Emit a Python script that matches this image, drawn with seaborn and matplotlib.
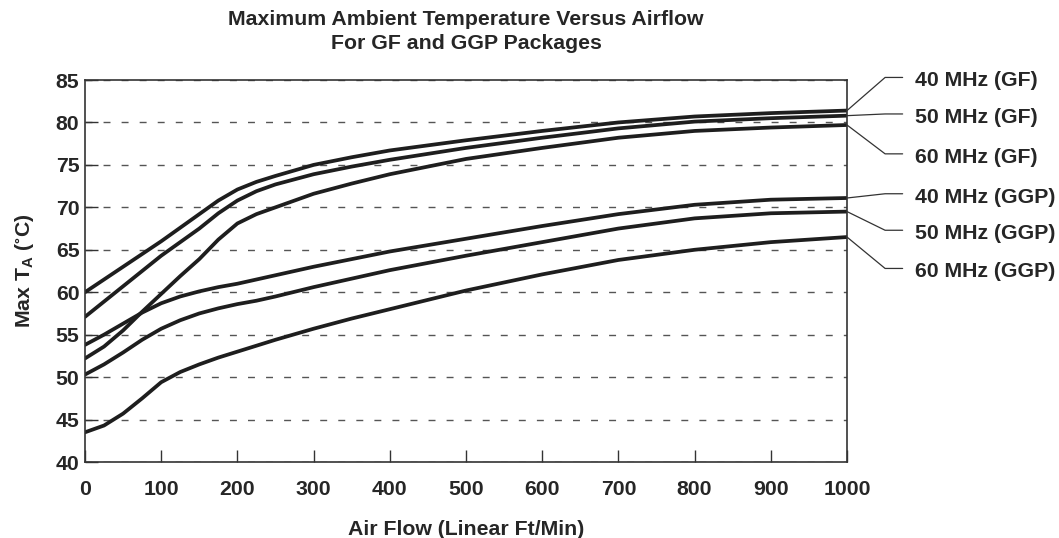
import numpy as np
import pandas as pd
import matplotlib
matplotlib.use("Agg")
import matplotlib.pyplot as plt
import seaborn as sns

# airflow sample points (linear ft/min)
airflow = [0, 25, 50, 75, 100, 125, 150, 175, 200, 225, 250, 300, 350, 400,
           500, 600, 700, 800, 900, 1000]

# max ambient temperature (deg C)
t_40_gf = [60.0, 61.5, 63.0, 64.5, 66.0, 67.6, 69.2, 70.8, 72.1, 73.0, 73.7,
           75.0, 75.9, 76.7, 77.9, 79.0, 80.0, 80.7, 81.1, 81.4]
t_50_gf = [57.1, 58.9, 60.7, 62.5, 64.3, 65.9, 67.5, 69.3, 70.8, 71.9, 72.7,
           73.9, 74.8, 75.6, 77.0, 78.2, 79.3, 80.1, 80.5, 80.8]
t_60_gf = [52.2, 53.6, 55.5, 57.7, 59.8, 61.9, 63.9, 66.2, 68.1, 69.2, 70.0,
           71.6, 72.8, 73.9, 75.7, 77.0, 78.2, 79.0, 79.4, 79.7]
t_40_ggp = [53.8, 55.0, 56.3, 57.6, 58.7, 59.5, 60.1, 60.6, 61.0, 61.5, 62.0,
            63.0, 63.9, 64.8, 66.3, 67.8, 69.2, 70.3, 70.9, 71.1]
t_50_ggp = [50.3, 51.5, 52.9, 54.4, 55.7, 56.7, 57.5, 58.1, 58.6, 59.0, 59.5,
            60.6, 61.6, 62.6, 64.3, 65.9, 67.5, 68.7, 69.3, 69.5]
t_60_ggp = [43.5, 44.3, 45.7, 47.5, 49.4, 50.6, 51.5, 52.3, 53.0, 53.7, 54.4,
            55.7, 56.9, 58.0, 60.2, 62.1, 63.8, 65.0, 65.9, 66.5]

series_names = ["40 MHz (GF)", "50 MHz (GF)", "60 MHz (GF)",
                "40 MHz (GGP)", "50 MHz (GGP)", "60 MHz (GGP)"]
series_vals = [t_40_gf, t_50_gf, t_60_gf, t_40_ggp, t_50_ggp, t_60_ggp]

# where each callout label sits (deg C) on the right of the plot
label_y = [84.9, 80.6, 75.9, 71.2, 66.9, 62.4]

rows = []
for name, vals in zip(series_names, series_vals):
    for x, y in zip(airflow, vals):
        rows.append({"airflow": x, "temp": y, "series": name})
df = pd.DataFrame(rows)

sns.set_style("ticks")
plt.rcParams["font.family"] = ["Liberation Sans", "DejaVu Sans"]
plt.rcParams["font.weight"] = "bold"
plt.rcParams["mathtext.default"] = "regular"

ink = "#1e1e1e"
fs = 15.3
fig = plt.figure(figsize=(10.59, 5.38), dpi=100)
ax = fig.add_axes([85 / 1059, 1 - 462 / 538, 762 / 1059, 382 / 538])

sns.lineplot(data=df, x="airflow", y="temp", hue="series",
             palette=[ink] * 6, linewidth=2.7, legend=False, ax=ax)

ax.set_xlim(0, 1000)
ax.set_ylim(40, 85)
ax.set_xticks(range(0, 1001, 100))
ax.set_yticks(range(40, 86, 5))
ax.yaxis.grid(True, linestyle=(0, (5, 8)), color="#555555", linewidth=1.0)
ax.xaxis.grid(False)

for s in ax.spines.values():
    s.set_visible(True)
    s.set_color("#333333")
    s.set_linewidth(1.2)

ax.tick_params(axis="x", direction="in", length=9, width=1, color="#333333",
               pad=13, labelsize=fs)
ax.tick_params(axis="y", direction="in", length=9, width=1, color="#333333",
               pad=4, labelsize=fs)
for lab in ax.get_xticklabels() + ax.get_yticklabels():
    lab.set_fontweight("bold")

ax.set_xlabel("Air Flow (Linear Ft/Min)", fontsize=fs, fontweight="bold", labelpad=15)
ax.set_ylabel("Max T$_{A}$ ($^{\\circ}$C)", fontsize=fs, fontweight="bold", labelpad=14)

fig.text(466 / 1059, 1 - 10 / 538,
         "Maximum Ambient Temperature Versus Airflow\nFor GF and GGP Packages",
         ha="center", va="top", fontsize=fs, fontweight="bold", linespacing=1.35)

# callout labels with leader lines
for name, vals, ly in zip(series_names, series_vals, label_y):
    ax.plot([1000, 1050, 1073], [vals[-1], ly + 0.4, ly + 0.4], color="#333333",
            linewidth=0.9, clip_on=False)
    ax.text(1089, ly, name, fontsize=fs, fontweight="bold", ha="left",
            va="center", clip_on=False)

fig.savefig("out.png", dpi=100)
